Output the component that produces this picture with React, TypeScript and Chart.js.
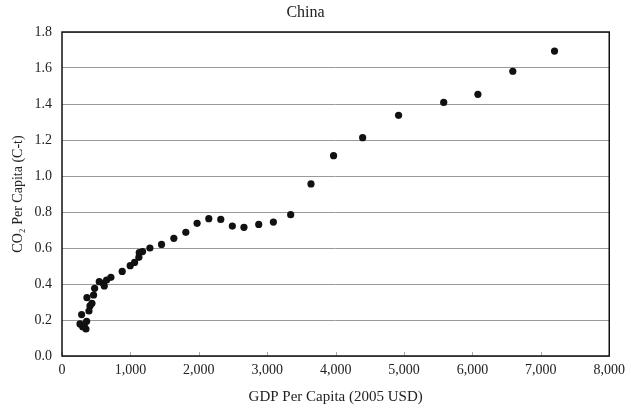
import React, { useEffect, useRef } from "react";
import { Chart, registerables } from "chart.js";

Chart.register(...registerables);

const gdpPerCapita = [263, 302, 326, 350, 360, 287, 365, 394, 409, 438, 462, 477, 545, 603, 618, 652, 715, 880, 997, 1061, 1124, 1129, 1178, 1285, 1455, 1635, 1810, 1975, 2146, 2321, 2490, 2660, 2876, 3090, 3343, 3640, 3970, 4395, 4920, 5580, 6080, 6590, 7200];
const co2PerCapita = [0.178, 0.163, 0.168, 0.15, 0.193, 0.23, 0.324, 0.25, 0.278, 0.293, 0.339, 0.376, 0.413, 0.404, 0.389, 0.422, 0.437, 0.47, 0.502, 0.52, 0.548, 0.574, 0.58, 0.6, 0.62, 0.654, 0.687, 0.737, 0.763, 0.759, 0.722, 0.715, 0.731, 0.744, 0.785, 0.956, 1.113, 1.213, 1.337, 1.409, 1.454, 1.582, 1.694];

const chartTitle = "China";
const xTitle = "GDP Per Capita (2005 USD)";
const yTitle = "CO\u2082 Per Capita (C-t)";

const FONT = "'Liberation Serif', 'DejaVu Serif', serif";

const frame = {
  id: "frame",
  afterDraw(chart: any) {
    const { ctx, chartArea } = chart;
    const xs = chart.scales.x;
    ctx.save();
    ctx.strokeStyle = "#aaa";
    ctx.lineWidth = 1;
    xs.ticks.forEach((t: any) => {
      const px = Math.round(xs.getPixelForValue(t.value)) + 0.5;
      ctx.beginPath();
      ctx.moveTo(px, chartArea.bottom);
      ctx.lineTo(px, chartArea.bottom - 4);
      ctx.stroke();
    });
    ctx.strokeStyle = "#111";
    ctx.lineWidth = 1.5;
    ctx.strokeRect(chartArea.left, chartArea.top, chartArea.right - chartArea.left, chartArea.bottom - chartArea.top);
    ctx.restore();
  },
};

export default function App() {
  const ref = useRef<HTMLCanvasElement | null>(null);
  useEffect(() => {
    if (!ref.current) return;
    const points = gdpPerCapita.map((g, i) => ({ x: g, y: co2PerCapita[i] }));
    const chart = new Chart(ref.current, {
      type: "scatter",
      data: {
        datasets: [
          {
            data: points,
            backgroundColor: "#111",
            borderColor: "#111",
            pointRadius: 3.6,
            pointBorderWidth: 0,
          },
        ],
      },
      options: {
        responsive: false,
        animation: false,
        layout: { padding: { left: 0, right: 20, top: 0, bottom: 0 } },
        plugins: {
          legend: { display: false },
          tooltip: { enabled: false },
          title: {
            display: true,
            text: chartTitle,
            color: "#222",
            font: { family: FONT, size: 16, weight: "normal" },
            padding: { top: 3, bottom: 9.8 },
          },
        },
        scales: {
          x: {
            type: "linear",
            min: 0,
            max: 8000,
            afterFit(scale: any) {
              scale.height = 53;
            },
            grid: { display: true, drawOnChartArea: false, drawTicks: false },
            border: { display: false },
            ticks: {
              stepSize: 1000,
              padding: 6,
              color: "#222",
              font: { family: FONT, size: 14 },
              maxRotation: 0,
              callback: (v: any) => Number(v).toString().replace(/\B(?=(\d{3})+(?!\d))/g, ","),
            },
            title: {
              display: true,
              text: xTitle,
              color: "#222",
              font: { family: FONT, size: 15 },
              padding: { top: 0, bottom: 3 },
            },
          },
          y: {
            type: "linear",
            min: 0,
            max: 1.8,
            afterFit(scale: any) {
              scale.width = 62;
            },
            grid: { color: "#999", lineWidth: 1, drawTicks: false },
            border: { display: false },
            ticks: {
              stepSize: 0.2,
              padding: 10,
              color: "#222",
              font: { family: FONT, size: 14 },
              callback: (v: any) => Number(v).toFixed(1),
            },
            title: {
              display: true,
              text: yTitle,
              color: "#222",
              font: { family: FONT, size: 14 },
              padding: { top: 10, bottom: 0 },
            },
          },
        },
      },
      plugins: [frame],
    });
    return () => chart.destroy();
  }, []);
  return (
    <div style={{ position: "absolute", left: 0, top: 0, width: 631, height: 409, background: "#fff" }}>
      <canvas ref={ref} width={631} height={409} />
    </div>
  );
}
